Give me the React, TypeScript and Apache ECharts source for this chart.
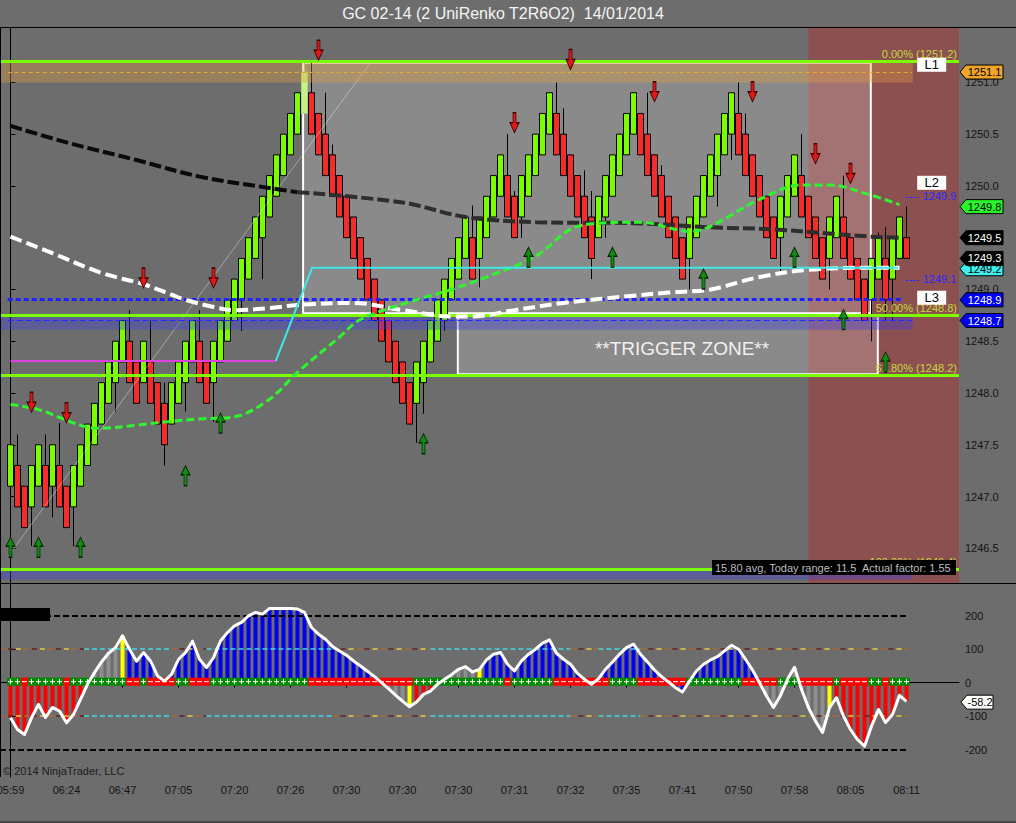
import React, { useEffect, useRef } from 'react';
import * as echarts from 'echarts';

const FONT = "'Liberation Sans', Arial, sans-serif";

// ---------- DATA ----------
const chartTitle = 'GC 02-14 (2 UniRenko T2R6O2)  14/01/2014';
const timeLabels = ['05:59', '06:24', '06:47', '07:05', '07:20', '07:26', '07:30', '07:30', '07:30',
  '07:31', '07:32', '07:35', '07:41', '07:50', '07:58', '08:05', '08:11'];
const priceTicks = [1246.5, 1247.0, 1247.5, 1248.0, 1248.5, 1249.0, 1249.5, 1250.0, 1250.5, 1251.0];
const oscTicks = [-200, -100, 0, 100, 200];

const opens = [
  1247.1, 1247.3, 1247.1, 1246.9, 1247.1, 1247.3, 1247.1, 1247.3,
  1247.1, 1246.9, 1247.1, 1247.3, 1247.5, 1247.7, 1247.9, 1248.1,
  1248.3, 1248.5, 1248.3, 1248.1, 1248.3, 1248.1, 1247.9, 1247.7,
  1247.9, 1248.1, 1248.3, 1248.5, 1248.3, 1248.1, 1248.3, 1248.5,
  1248.7, 1248.9, 1249.1, 1249.3, 1249.5, 1249.7, 1249.9, 1250.1,
  1250.3, 1250.5, 1250.7, 1250.9, 1250.7, 1250.5, 1250.3, 1250.1,
  1249.9, 1249.7, 1249.5, 1249.3, 1249.1, 1248.9, 1248.7, 1248.5,
  1248.3, 1248.1, 1247.9, 1248.1, 1248.3, 1248.5, 1248.7, 1248.9,
  1249.1, 1249.3, 1249.5, 1249.3, 1249.5, 1249.7, 1249.9, 1250.1,
  1249.9, 1249.7, 1249.9, 1250.1, 1250.3, 1250.5, 1250.7, 1250.5,
  1250.3, 1250.1, 1249.9, 1249.7, 1249.5, 1249.7, 1249.9, 1250.1,
  1250.3, 1250.5, 1250.7, 1250.5, 1250.3, 1250.1, 1249.9, 1249.7,
  1249.5, 1249.3, 1249.5, 1249.7, 1249.9, 1250.1, 1250.3, 1250.5,
  1250.7, 1250.5, 1250.3, 1250.1, 1249.9, 1249.7, 1249.5, 1249.7,
  1249.9, 1250.1, 1249.9, 1249.7, 1249.5, 1249.3, 1249.5, 1249.7,
  1249.5, 1249.3, 1249.1, 1248.9, 1249.1, 1249.3, 1249.1, 1249.3,
  1249.5];
const closes = [
  1247.5, 1246.9, 1246.7, 1247.3, 1247.5, 1246.9, 1247.5, 1246.9,
  1246.7, 1247.3, 1247.5, 1247.7, 1247.9, 1248.1, 1248.3, 1248.5,
  1248.7, 1248.1, 1247.9, 1248.5, 1247.9, 1247.7, 1247.5, 1248.1,
  1248.3, 1248.5, 1248.7, 1248.1, 1247.9, 1248.5, 1248.7, 1248.9,
  1249.1, 1249.3, 1249.5, 1249.7, 1249.9, 1250.1, 1250.3, 1250.5,
  1250.7, 1250.9, 1251.1, 1250.5, 1250.3, 1250.1, 1249.9, 1249.7,
  1249.5, 1249.3, 1249.1, 1248.9, 1248.7, 1248.5, 1248.3, 1248.1,
  1247.9, 1247.7, 1248.3, 1248.5, 1248.7, 1248.9, 1249.1, 1249.3,
  1249.5, 1249.7, 1249.1, 1249.7, 1249.9, 1250.1, 1250.3, 1249.7,
  1249.5, 1250.1, 1250.3, 1250.5, 1250.7, 1250.9, 1250.3, 1250.1,
  1249.9, 1249.7, 1249.5, 1249.3, 1249.9, 1250.1, 1250.3, 1250.5,
  1250.7, 1250.9, 1250.3, 1250.1, 1249.9, 1249.7, 1249.5, 1249.3,
  1249.1, 1249.7, 1249.9, 1250.1, 1250.3, 1250.5, 1250.7, 1250.9,
  1250.3, 1250.1, 1249.9, 1249.7, 1249.5, 1249.3, 1249.9, 1250.1,
  1250.3, 1249.7, 1249.5, 1249.3, 1249.1, 1249.7, 1249.9, 1249.3,
  1249.1, 1248.9, 1248.7, 1249.3, 1249.5, 1248.9, 1249.5, 1249.7,
  1249.3];
const lows = [
  1247.1, 1246.9, 1246.7, 1246.52, 1247.1, 1246.9, 1246.8, 1246.9,
  1246.7, 1246.52, 1247.1, 1247.3, 1247.5, 1247.7, 1247.9, 1247.82,
  1248.3, 1248.1, 1247.9, 1248.1, 1247.9, 1247.7, 1247.3, 1247.7,
  1247.9, 1247.82, 1248.3, 1248.1, 1247.9, 1247.72, 1248.3, 1248.5,
  1248.7, 1248.6, 1249.1, 1249.3, 1249.1, 1249.7, 1249.9, 1250.1,
  1250.3, 1250.5, 1250.7, 1250.5, 1250.3, 1250.1, 1249.9, 1249.7,
  1249.5, 1249.3, 1249.1, 1248.9, 1248.7, 1248.5, 1248.3, 1248.1,
  1247.9, 1247.7, 1247.52, 1247.8, 1248.3, 1248.5, 1248.6, 1248.9,
  1249.1, 1249.3, 1249.1, 1249.02, 1249.5, 1249.7, 1249.9, 1249.7,
  1249.5, 1249.5, 1249.9, 1250.1, 1250.3, 1250.5, 1250.3, 1250.1,
  1249.9, 1249.7, 1249.5, 1249.1, 1249.5, 1249.5, 1249.9, 1250.1,
  1250.3, 1250.5, 1250.3, 1250.1, 1249.9, 1249.7, 1249.5, 1249.3,
  1249.1, 1249.0, 1249.5, 1249.7, 1249.9, 1249.8, 1250.3, 1250.25,
  1250.3, 1250.1, 1249.9, 1249.7, 1249.5, 1249.3, 1249.15, 1249.7,
  1249.9, 1249.7, 1249.5, 1249.3, 1249.1, 1249.0, 1249.5, 1249.3,
  1249.1, 1248.9, 1248.7, 1248.5, 1249.1, 1248.7, 1248.7, 1249.3,
  1249.3];
const highs = [
  1247.5, 1247.6, 1247.1, 1247.3, 1247.5, 1247.6, 1247.5, 1247.71,
  1247.1, 1247.3, 1247.5, 1247.7, 1247.9, 1248.1, 1248.3, 1248.5,
  1248.7, 1248.8, 1248.3, 1248.5, 1248.7, 1248.1, 1248.1, 1248.1,
  1248.3, 1248.5, 1248.7, 1248.8, 1248.3, 1248.5, 1248.7, 1248.9,
  1249.1, 1249.3, 1249.5, 1249.7, 1249.9, 1250.1, 1250.3, 1250.5,
  1250.7, 1250.9, 1251.2, 1251.2, 1250.7, 1250.9, 1250.4, 1250.1,
  1249.9, 1249.7, 1249.5, 1249.3, 1249.1, 1248.9, 1248.7, 1248.5,
  1248.3, 1248.1, 1248.3, 1248.5, 1248.7, 1248.9, 1249.1, 1249.3,
  1249.5, 1249.7, 1249.81, 1249.7, 1249.9, 1250.1, 1250.3, 1250.5,
  1249.95, 1250.1, 1250.3, 1250.5, 1250.7, 1250.9, 1251.0, 1250.75,
  1250.3, 1250.1, 1250.15, 1249.95, 1249.9, 1250.1, 1250.3, 1250.5,
  1250.7, 1250.9, 1250.7, 1250.9, 1250.3, 1250.2, 1249.9, 1249.7,
  1249.5, 1249.7, 1249.9, 1250.1, 1250.3, 1250.5, 1250.7, 1250.9,
  1251.0, 1250.7, 1250.3, 1250.1, 1249.9, 1249.7, 1249.9, 1250.1,
  1250.3, 1250.5, 1249.9, 1249.7, 1249.5, 1249.7, 1249.9, 1250.1,
  1249.5, 1249.3, 1249.1, 1249.3, 1249.55, 1249.6, 1249.5, 1249.7,
  1249.8];
const highlightedBar = 42;

// moving averages: [bar index, price]
const slowMaEarly = [[0, 1250.58], [8, 1250.42], [18, 1250.25], [27, 1250.09], [37, 1249.98], [41, 1249.94]];
const slowMaLate = [[41, 1249.94], [56, 1249.84], [65, 1249.70], [75, 1249.65], [89, 1249.64], [100, 1249.60],
  [109, 1249.58], [123, 1249.51], [127, 1249.50]];
const whiteMa = [[0, 1249.51], [6, 1249.35], [13, 1249.16], [19, 1249.05], [23, 1248.95], [25, 1248.90],
  [29, 1248.83], [32, 1248.80], [37, 1248.82], [41, 1248.85], [49, 1248.87], [56, 1248.80], [63, 1248.74],
  [66, 1248.74], [72, 1248.80], [79, 1248.87], [89, 1248.94], [94, 1248.97], [100, 1249.0], [107, 1249.12],
  [114, 1249.19], [123, 1249.21], [127, 1249.21]];
const greenMa = [[0, 1247.89], [4, 1247.84], [11, 1247.67], [13, 1247.66], [18, 1247.69], [22, 1247.72],
  [27, 1247.75], [32, 1247.77], [37, 1247.94], [41, 1248.20], [47, 1248.54], [50, 1248.71], [58, 1248.90],
  [63, 1249.0], [68, 1249.12], [75, 1249.32], [80, 1249.58], [84, 1249.64], [90, 1249.65], [95, 1249.58],
  [97, 1249.56], [100, 1249.61], [107, 1249.87], [113, 1250.01], [117, 1250.01], [122, 1249.93], [127, 1249.82]];

// drawing objects
const magentaLine = [[0, 1248.31], [37.9, 1248.31]];
const cyanLine = [[37.9, 1248.31], [43.1, 1249.21], [126.8, 1249.21]];
const faintTrend = [[-0.4, 1246.42], [51.4, 1251.19]];
const sellArrows = [[3, 1247.91], [8, 1247.81], [19, 1249.11], [29, 1249.11], [44, 1251.31], [72, 1250.61],
  [80, 1251.22], [92, 1250.91], [106, 1250.91], [115, 1250.31], [120, 1250.12]];
const buyArrows = [[0, 1246.51], [4, 1246.51], [10, 1246.51], [25, 1247.20], [30, 1247.71], [59, 1247.51],
  [74, 1249.31], [86, 1249.31], [99, 1249.10], [112, 1249.31], [119, 1248.71], [125, 1248.30]];

const fibPrices = [1251.2, 1248.75, 1248.17, 1246.3];
const fibTexts = ['0.00% (1251.2)', '50.00% (1248.8)', '61.80% (1248.2)', '100.00% (1246.4)'];
const consolidationBox = { fromBar: 41.8, toBar: 122.9, high: 1251.19, low: 1248.77 };
const triggerZone = { fromBar: 63.9, toBar: 123.9, high: 1248.75, low: 1248.18 };
const sessionZoneFromBar = 114.0;
const orangeBand = { fromBar: -1.5, toBar: 128.9, high: 1251.2, low: 1251.0 };
const blueBand = { fromBar: -1.5, toBar: 128.9, high: 1248.75, low: 1248.61 };
const bottomBand = { fromBar: -1.5, toBar: 128.9, high: 1246.28, low: 1246.2 };
const orangeLevel = { fromBar: -0.4, toBar: 128.8, price: 1251.1 };
const blueDotLevel = { fromBar: -0.4, toBar: 127.4, price: 1248.91 };
const blueThinLevel = { fromBar: -0.4, toBar: 128.8, price: 1248.7 };
const levelNames = ['L1', 'L2', 'L3'];
const levelPrices = [1251.17, 1250.03, 1248.92];
const pivotTexts = ['---- 1249.9', '---- 1249.1'];
const pivotPrices = [1249.9, 1249.1];
const priceTags = [1251.1, 1249.8, 1249.5, 1249.2, 1249.3, 1248.9, 1248.7];
const infoText = '15.80 avg, Today range: 11.5  Actual factor: 1.55';
const zoneText = '**TRIGGER ZONE**';
const copyright = '\u00a9 2014 NinjaTrader, LLC';

// oscillator (CCI) per bar
const cciValues = [
  -105, -140, -155, -105, -65, -104, -74, -85,
  -120, -95, -50, -5, 30, 62, 88, 105,
  140, 100, 64, 90, 65, 20, 5, 25,
  70, 90, 124, 70, 45, 75, 125, 150,
  170, 180, 200, 210, 205, 222, 222, 222,
  222, 220, 210, 165, 145, 130, 108, 95,
  82, 65, 50, 34, 18, 0, -18, -37,
  -55, -72, -58, -35, -25, -5, 10, 24,
  40, 48, 32, 40, 68, 85, 90, 55,
  35, 65, 85, 100, 118, 128, 88, 70,
  55, 28, 10, -5, 12, 40, 62, 85,
  105, 115, 85, 62, 38, 18, 2, -15,
  -28, 5, 35, 55, 68, 78, 95, 112,
  100, 70, 38, 0, -40, -74, -38, 10,
  46, -20, -75, -115, -149, -75, -45, -100,
  -140, -170, -190, -130, -80, -119, -95, -38,
  -56];
const cciCurrent = -58.2;
const histStates = [
  'RRRRRRRR', 'RRRNNNNN', 'YBBBBBBB', 'BBBBBBBB', 'BBBBBBBB', 'BBBBBBBB', 'BBBBBBNN', 'NYRRRNNN',
  'NNNYBBBB', 'BBBBBBBB', 'BBBBBBBB', 'BBBBBBBB', 'BBBBBBBB', 'BBBBNNNN', 'NNNNNYRR', 'RRRRRRRR', 'R'].join('');
const zeroStates = [
  'GGRGGGGG', 'RGGGGGGG', 'GRRGRRRR', 'GGRRRGGG', 'GGGGGGGG', 'GGGRRRRR', 'RRRRRRRR', 'RRGGGGGG',
  'GGGGGGGR', 'GGGGGGRR', 'RRRRRRGG', 'GGRRRRRR', 'RGGGGGGG', 'GRRRRRGG', 'GRRRRRGR', 'RRRGGRGG', 'G'].join('');
const cciLevelSegments = [[-1.5, 10.5, 'mix'], [10.5, 23, 'cyan'], [23, 28, 'mix'], [28, 46, 'cyan'],
  [46, 60, 'mix'], [60, 80, 'cyan'], [80, 84, 'mix'], [84, 90, 'cyan'], [90, 128.2, 'mix']];
const cciOuterLevels = [200, -200];
const cciInnerLevels = [100, -100];
const cciLevelEnd = 128.2;

// ---------- STYLE ----------
const BG = '#6d6d6d';
const UP = '#7cfc00';
const DOWN = '#f52c2c';
const histColors: Record<string, string> = { R: '#ff0000', B: '#0000f0', N: '#8e8e8e', Y: '#ffff00' };
const mixColors = ['#b0682c', '#6e1c1c', '#e0d040'];
const tagStyles = [
  { fill: '#f0a428', text: '#000' }, { fill: '#29f529', text: '#000' }, { fill: '#000', text: '#fff' },
  { fill: '#3ff0f0', text: '#000' }, { fill: '#000', text: '#fff' }, { fill: '#0000f5', text: '#fff' },
  { fill: '#0000f5', text: '#fff' }];
const NCAT = 137;
const DOWN_ARROW = 'path://M3,0L6,0L6,10L9,10L4.5,20L0,10L3,10Z';
const UP_ARROW = 'path://M4.5,0L9,9L6,9L6,20L3,20L3,9L0,9Z';

function buildOption() {
  const cats = Array.from({ length: NCAT }, (_, j) => String(j));
  const showIdx = (idx: number) => idx >= 1 && idx <= timeLabels.length * 8 - 7 && (idx - 1) % 8 === 0;

  const candleData = opens.map((o, i) => {
    const item: any = { value: [i + 1, o, closes[i], lows[i], highs[i]] };
    if (i === highlightedBar) item.itemStyle = { color: '#c4f286', borderColor: '#a9d878' };
    return item;
  });

  const maSeries = (data: number[][], color: string, width: number, dash: number[], z: number) => ({
    type: 'line', xAxisIndex: 2, yAxisIndex: 0, data, smooth: 0.35, showSymbol: false, silent: true, z,
    lineStyle: { color, width, type: dash, cap: 'butt' },
  });

  const rangeArea = (r: any, style: any) => [
    { coord: [r.fromBar, r.high], itemStyle: style }, { coord: [r.toBar, r.low] }];
  const segLine = (from: number, to: number, price: number, lineStyle: any) => [
    { coord: [from, price], lineStyle }, { coord: [to, price] }];

  const oscLines: any[] = [];
  cciOuterLevels.forEach((lv) => oscLines.push(segLine(-1.5, cciLevelEnd, lv, { color: '#000', width: 2, type: [6, 3] })));
  cciInnerLevels.forEach((lv) => cciLevelSegments.forEach(([a, b, kind]: any) => {
    if (kind === 'cyan') {
      oscLines.push(segLine(a, b, lv, { color: '#40d8e8', width: 1.5, type: [5, 3] }));
    } else {
      mixColors.forEach((col, k) => {
        oscLines.push(segLine(a, b, lv, { color: col, width: 1.5, type: [5, 19], dashOffset: -8 * k }));
      });
    }
  }));

  const axisLabelStyle = { color: '#141414', fontSize: 11, fontFamily: FONT };

  return {
    animation: false,
    backgroundColor: BG,
    textStyle: { fontFamily: FONT },
    grid: [
      { left: 0, top: 27.5, width: 959, height: 555.5, outerBoundsMode: 'none', containLabel: false },
      { left: 0, top: 583, width: 959, height: 194, outerBoundsMode: 'none', containLabel: false },
    ],
    xAxis: [
      { type: 'category', gridIndex: 0, data: cats, boundaryGap: true, show: false },
      {
        type: 'category', gridIndex: 1, data: cats, boundaryGap: true,
        axisLine: { show: true, lineStyle: { color: '#000', width: 1 } },
        axisTick: { show: true, interval: (idx: number) => showIdx(idx), alignWithLabel: true, length: 5, lineStyle: { color: '#000' } },
        axisLabel: { ...axisLabelStyle, interval: (idx: number) => showIdx(idx), margin: 7,
          formatter: (_v: string, idx: number) => timeLabels[(idx - 1) / 8] ?? '' },
        splitLine: { show: false },
      },
      { type: 'value', gridIndex: 0, min: -1.5, max: 135.5, show: false, splitLine: { show: false } },
      { type: 'value', gridIndex: 1, min: -1.5, max: 135.5, show: false, splitLine: { show: false } },
    ],
    yAxis: [
      {
        type: 'value', gridIndex: 0, position: 'right', min: 1246.165, max: 1251.53, splitNumber: 10,
        splitLine: { show: false },
        axisLine: { show: true, lineStyle: { color: '#000' } },
        axisTick: { show: true, length: 5, lineStyle: { color: '#000' }, customValues: priceTicks },
        axisLabel: { ...axisLabelStyle, margin: 6, customValues: priceTicks,
          formatter: (v: number) => (v > 1251.2 || v < 1246.4 ? '' : v.toFixed(1)) },
      },
      {
        type: 'value', gridIndex: 1, position: 'right', min: -282, max: 298, splitNumber: 5,
        splitLine: { show: false },
        axisLine: { show: true, lineStyle: { color: '#000' } },
        axisTick: { show: true, length: 5, lineStyle: { color: '#000' }, customValues: oscTicks },
        axisLabel: { ...axisLabelStyle, margin: 6, customValues: oscTicks,
          formatter: (v: number) => (Math.abs(v) > 250 ? '' : String(v)) },
      },
    ],
    series: [
      // zones under the bars
      {
        type: 'line', xAxisIndex: 2, yAxisIndex: 0, data: [], z: 1, silent: true,
        markArea: {
          silent: true, label: { show: false },
          data: [
            [{ xAxis: sessionZoneFromBar, itemStyle: { color: 'rgba(200,30,30,0.36)' } }, { xAxis: 135.5 }],
            rangeArea(consolidationBox, { color: 'rgba(255,255,255,0.2)', borderColor: '#ffffff', borderWidth: 2 }),
            rangeArea(triggerZone, { color: 'rgba(255,255,255,0.2)', borderColor: '#ffffff', borderWidth: 2 }),
          ],
        },
      },
      {
        type: 'candlestick', xAxisIndex: 0, yAxisIndex: 0, z: 3, barWidth: 6, silent: true,
        encode: { x: 0, y: [1, 2, 3, 4] },
        data: candleData,
        itemStyle: { color: UP, color0: DOWN, borderColor: '#000', borderColor0: '#000', borderWidth: 1 },
      },
      // bands and levels over the bars
      {
        type: 'line', xAxisIndex: 2, yAxisIndex: 0, data: [], z: 5, silent: true,
        markArea: {
          silent: true, z: 5, label: { show: false },
          data: [
            rangeArea(orangeBand, { color: 'rgba(230,160,60,0.35)' }),
            rangeArea(blueBand, { color: 'rgba(60,60,230,0.35)' }),
            rangeArea(bottomBand, { color: 'rgba(60,60,230,0.35)' }),
          ],
        },
        markLine: {
          silent: true, symbol: ['none', 'none'], z: 5,
          label: { show: false },
          data: [
            segLine(orangeLevel.fromBar, orangeLevel.toBar, orangeLevel.price, { color: '#e8a838', width: 1, type: [4, 3] }),
            segLine(blueThinLevel.fromBar, blueThinLevel.toBar, blueThinLevel.price, { color: '#2828ff', width: 1, type: [6, 3] }),
            segLine(blueDotLevel.fromBar, blueDotLevel.toBar, blueDotLevel.price, { color: '#2020ff', width: 3, type: [5, 3] }),
            ...fibPrices.map((p, k) => ({
              yAxis: p,
              lineStyle: { color: UP, width: 3, type: 'solid' },
              label: { show: true, position: 'insideEndTop', formatter: fibTexts[k], color: '#c4d83c',
                fontSize: 11, fontFamily: FONT, distance: 2 },
            })),
          ],
        },
      },
      { type: 'line', xAxisIndex: 2, yAxisIndex: 0, data: faintTrend, showSymbol: false, silent: true, z: 4,
        lineStyle: { color: 'rgba(235,235,235,0.45)', width: 1 } },
      maSeries(slowMaEarly, '#0a0a0a', 4, [12, 4], 6),
      maSeries(slowMaLate, '#2e2e2e', 4, [12, 4], 6),
      maSeries(whiteMa, '#ffffff', 4, [12, 5], 6),
      maSeries(greenMa, '#2ef52e', 3, [8, 4], 6),
      { type: 'line', xAxisIndex: 2, yAxisIndex: 0, data: magentaLine, showSymbol: false, silent: true, z: 7,
        lineStyle: { color: '#e040e0', width: 2 } },
      { type: 'line', xAxisIndex: 2, yAxisIndex: 0, data: cyanLine, showSymbol: false, silent: true, z: 7,
        lineStyle: { color: '#40e8e8', width: 2 } },
      { type: 'scatter', xAxisIndex: 2, yAxisIndex: 0, data: sellArrows, symbol: DOWN_ARROW, symbolSize: [9, 20],
        silent: true, z: 8, itemStyle: { color: '#e01818', borderColor: '#3a0000', borderWidth: 1, opacity: 1 } },
      { type: 'scatter', xAxisIndex: 2, yAxisIndex: 0, data: buyArrows, symbol: UP_ARROW, symbolSize: [9, 20],
        silent: true, z: 8, itemStyle: { color: '#138a13', borderColor: '#002800', borderWidth: 1, opacity: 1 } },
      {
        type: 'line', xAxisIndex: 2, yAxisIndex: 0, data: [], z: 9, silent: true,
        markPoint: {
          silent: true, z: 9, animation: false,
          data: [
            ...levelNames.map((n, k) => ({
              name: n, coord: [131.6, levelPrices[k]], symbol: 'rect', symbolSize: [29, 14],
              itemStyle: { color: '#ffffff' },
              label: { show: true, position: 'inside', formatter: '{b}', color: '#000', fontSize: 13, fontFamily: FONT },
            })),
            ...pivotTexts.map((n, k) => ({
              name: n, coord: [135.2, pivotPrices[k]], symbol: 'circle', symbolSize: 1,
              itemStyle: { color: 'rgba(0,0,0,0)' },
              label: { show: true, position: 'left', distance: 0, formatter: '{b}', color: '#2a2aff', fontSize: 11, fontFamily: FONT },
            })),
          ],
        },
      },
      // oscillator
      {
        type: 'bar', xAxisIndex: 1, yAxisIndex: 1, barWidth: 4, z: 2, silent: true,
        data: cciValues.map((v, i) => ({ value: [i + 1, v], itemStyle: { color: histColors[histStates[i]] } })),
      },
      {
        type: 'custom', xAxisIndex: 1, yAxisIndex: 1, z: 3, silent: true,
        data: zeroStates.split('').map((s, i) => [i + 1, s === 'G' ? 1 : 0]),
        renderItem: (_p: any, api: any) => {
          const j = api.value(0);
          const up = api.value(1) === 1;
          const c = api.coord([j, 0]);
          const w = api.size([1, 0])[0];
          const h = 8;
          const cy = c[1] - 1;
          const children: any[] = [
            { type: 'rect', shape: { x: c[0] - w / 2, y: cy - h / 2, width: w, height: h }, style: { fill: up ? '#008a00' : '#ff0000' } },
            { type: 'line', shape: { x1: c[0] - 2.5, y1: cy, x2: c[0] + 2.5, y2: cy }, style: { stroke: '#fff', lineWidth: 1 } },
          ];
          if (up) children.push({ type: 'line', shape: { x1: c[0], y1: cy - 2.5, x2: c[0], y2: cy + 2.5 }, style: { stroke: '#fff', lineWidth: 1 } });
          return { type: 'group', children };
        },
      },
      {
        type: 'line', xAxisIndex: 3, yAxisIndex: 1, data: [], z: 4, silent: true,
        markLine: { silent: true, symbol: ['none', 'none'], z: 4, label: { show: false }, data: oscLines },
      },
      {
        type: 'line', xAxisIndex: 1, yAxisIndex: 1, z: 6, silent: true, showSymbol: false,
        data: cciValues.map((v, i) => [i + 1, v]),
        lineStyle: { color: '#ffffff', width: 3, join: 'round' },
      },
    ],
  };
}

function staticGraphics() {
  return [
    { type: 'text', z: 100, x: 503, y: 13, style: { text: chartTitle, fill: '#f4f4f4', font: `16px ${FONT}`, textAlign: 'center', textVerticalAlign: 'middle' } },
    { type: 'line', z: 100, shape: { x1: 0, y1: 27.5, x2: 1016, y2: 27.5 }, style: { stroke: '#000', lineWidth: 1 } },
    { type: 'line', z: 100, shape: { x1: 0, y1: 583.5, x2: 1016, y2: 583.5 }, style: { stroke: '#000', lineWidth: 1 } },
    { type: 'line', z: 100, shape: { x1: 0.5, y1: 27.5, x2: 0.5, y2: 777 }, style: { stroke: '#000', lineWidth: 1 } },
    { type: 'line', z: 100, shape: { x1: 0, y1: 822, x2: 1016, y2: 822 }, style: { stroke: '#222', lineWidth: 1 } },
    { type: 'text', z: 100, x: 682, y: 348, style: { text: zoneText, fill: '#f0f0f0', font: `19px ${FONT}`, textAlign: 'center', textVerticalAlign: 'middle' } },
    { type: 'rect', z: 100, shape: { x: 712, y: 560, width: 244, height: 15 }, style: { fill: '#000' } },
    { type: 'text', z: 101, x: 715, y: 567.5, style: { text: infoText, fill: '#bdbdbd', font: `11px ${FONT}`, textVerticalAlign: 'middle' } },
    { type: 'rect', z: 100, shape: { x: 0, y: 608, width: 50, height: 13 }, style: { fill: '#000' } },
    { type: 'text', z: 100, x: 3, y: 771, style: { text: copyright, fill: '#1c1c1c', font: `11px ${FONT}`, textVerticalAlign: 'middle' } },
  ];
}

function tagGraphic(y: number, x0: number, x1: number, fill: string, stroke: string, text: string, color: string) {
  return [
    { type: 'polygon', z: 110, shape: { points: [[x0, y], [x0 + 6, y - 7], [x1, y - 7], [x1, y + 7], [x0 + 6, y + 7]] },
      style: { fill, stroke, lineWidth: 1 } },
    { type: 'text', z: 111, x: (x0 + 6 + x1) / 2, y, style: { text, fill: color, font: `11px ${FONT}`, textAlign: 'center', textVerticalAlign: 'middle' } },
  ];
}

export default function App() {
  const ref = useRef<HTMLDivElement>(null);
  useEffect(() => {
    if (!ref.current) return;
    const chart = echarts.init(ref.current, null, { renderer: 'svg' });
    chart.setOption(buildOption() as any);
    const tags: any[] = [];
    priceTags.forEach((p, k) => {
      const pt = chart.convertToPixel({ xAxisIndex: 2, yAxisIndex: 0 } as any, [0, p]) as any;
      tags.push(...tagGraphic(pt[1], 960, 1003, tagStyles[k].fill, '#000', p.toFixed(1), tagStyles[k].text));
    });
    const op = chart.convertToPixel({ xAxisIndex: 3, yAxisIndex: 1 } as any, [0, cciCurrent]) as any;
    tags.push(...tagGraphic(op[1], 961, 993, '#ffffff', '#000', cciCurrent.toFixed(1), '#000'));
    chart.setOption({ graphic: [...staticGraphics(), ...tags] } as any);
    return () => chart.dispose();
  }, []);
  return <div ref={ref} style={{ position: 'absolute', left: 0, top: 0, width: 1016, height: 823 }} />;
}
